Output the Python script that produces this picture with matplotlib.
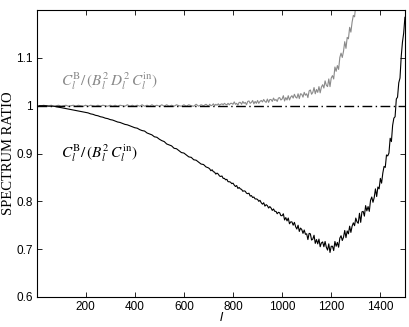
import matplotlib
matplotlib.use("Agg")
import matplotlib.pyplot as plt

# multipole l: every 10 up to 700, then every 5 up to 1500
ell_black = list(range(10, 701, 10)) + list(range(705, 1501, 5))
ratio_black = [
    # 10 .. 700 (step 10)
    1.000, 1.000, 1.000, 1.000, 0.999, 0.999, 0.999, 0.998, 0.997, 0.996,
    0.995, 0.994, 0.993, 0.992, 0.991, 0.990, 0.989, 0.988, 0.987, 0.986,
    0.985, 0.983, 0.982, 0.980, 0.979, 0.977, 0.976, 0.974, 0.973, 0.971,
    0.970, 0.968, 0.966, 0.965, 0.963, 0.961, 0.960, 0.958, 0.956, 0.954,
    0.953, 0.950, 0.948, 0.947, 0.943, 0.941, 0.939, 0.935, 0.934, 0.930,
    0.927, 0.925, 0.920, 0.918, 0.916, 0.911, 0.910, 0.906, 0.902, 0.901,
    0.897, 0.893, 0.892, 0.887, 0.886, 0.882, 0.878, 0.877, 0.872, 0.870,
    # 705 .. 1000 (step 5)
    0.868, 0.864, 0.866, 0.862, 0.861, 0.857, 0.859, 0.857, 0.853, 0.852,
    0.853, 0.848, 0.848, 0.845, 0.846, 0.841, 0.841, 0.840, 0.837, 0.838,
    0.834, 0.831, 0.833, 0.827, 0.829, 0.826, 0.825, 0.821, 0.822, 0.821,
    0.817, 0.816, 0.817, 0.811, 0.812, 0.808, 0.809, 0.805, 0.805, 0.804,
    0.800, 0.802, 0.797, 0.794, 0.797, 0.790, 0.793, 0.791, 0.786, 0.789,
    0.786, 0.781, 0.784, 0.779, 0.779, 0.774, 0.777, 0.776, 0.770, 0.770,
    # 1005 .. 1100
    0.774, 0.761, 0.766, 0.759, 0.765, 0.753, 0.757, 0.757, 0.750, 0.756,
    0.747, 0.742, 0.750, 0.737, 0.744, 0.741, 0.733, 0.740, 0.731, 0.732,
    # 1105 .. 1200
    0.720, 0.733, 0.732, 0.719,
    0.721, 0.729, 0.712, 0.720, 0.711, 0.721, 0.705, 0.713, 0.715, 0.705,
    0.716, 0.704, 0.698, 0.711, 0.693, 0.706,
    # 1205 .. 1300
    0.706, 0.697, 0.716, 0.706, 0.714, 0.704, 0.723, 0.728, 0.718, 0.725,
    0.739, 0.724, 0.738, 0.732, 0.748, 0.735, 0.748, 0.755, 0.749, 0.765,
    # 1305 .. 1500
    0.757, 0.754, 0.775, 0.756, 0.778, 0.779, 0.769, 0.791, 0.780, 0.789,
    0.779, 0.802, 0.809, 0.798, 0.808, 0.826, 0.810, 0.830, 0.826, 0.848,
    0.838, 0.859, 0.873, 0.871, 0.897, 0.895, 0.901, 0.932, 0.925, 0.959,
    0.974, 0.977, 1.014, 1.018, 1.048, 1.058, 1.103, 1.133, 1.152, 1.185,
]

ell_gray = list(range(10, 701, 10)) + list(range(705, 1321, 5))
ratio_gray = [
    # 10 .. 700 (step 10)
    1.000, 1.000, 1.001, 0.999, 1.000, 1.001, 0.999, 1.000, 1.001, 0.999,
    1.000, 1.001, 0.999, 1.000, 1.001, 0.999, 1.001, 1.000, 0.999, 1.001,
    0.999, 1.001, 1.000, 0.999, 1.001, 0.999, 1.001, 1.000, 0.999, 1.001,
    0.999, 1.001, 0.999, 1.001, 1.000, 0.999, 1.002, 0.999, 1.001, 0.999,
    1.001, 0.999, 1.002, 0.999, 1.001, 0.999, 1.002, 0.999, 1.001, 0.999,
    1.002, 0.999, 1.002, 0.999, 1.001, 0.999, 1.002, 1.000, 0.999, 1.002,
    0.999, 1.002, 1.000, 0.999, 1.003, 0.999, 1.002, 1.000, 1.003, 0.999,
    # 705 .. 800 (step 5)
    1.003, 1.000, 1.001, 1.004, 1.000, 1.003, 1.001, 1.004, 1.001, 1.003,
    1.004, 1.002, 1.005, 1.003, 1.002, 1.005, 1.002, 1.005, 1.005, 1.003,
    # 805 .. 900
    1.008, 1.003, 1.005, 1.001, 1.007, 1.007, 1.003, 1.009, 1.005, 1.007,
    1.002, 1.009, 1.010, 1.005, 1.007, 1.011, 1.004, 1.009, 1.005, 1.011,
    # 905 .. 1000
    1.005, 1.009, 1.011, 1.008, 1.013, 1.009, 1.007, 1.014, 1.007, 1.013,
    1.013, 1.009, 1.016, 1.011, 1.013, 1.009, 1.016, 1.017, 1.012, 1.014,
    # 1005 .. 1100
    1.021, 1.010, 1.017, 1.012, 1.021, 1.012, 1.018, 1.021, 1.016, 1.024,
    1.018, 1.016, 1.025, 1.015, 1.025, 1.024, 1.018, 1.028, 1.022, 1.025,
    # 1105 .. 1200
    1.017, 1.031, 1.033, 1.024, 1.028, 1.038, 1.025, 1.034, 1.028, 1.040,
    1.027, 1.039, 1.044, 1.037, 1.052, 1.043, 1.040, 1.056, 1.040, 1.058,
    # 1205 .. 1320
    1.063, 1.056, 1.081, 1.072, 1.084, 1.076, 1.101, 1.110,
    1.101, 1.114, 1.134, 1.120, 1.143, 1.140, 1.164, 1.154,
    1.175, 1.189, 1.186, 1.211, 1.208, 1.212, 1.240, 1.235,
]

ell_ref = [2, 1500]
ratio_ref = [1.0, 1.0]

x_ticks = [200, 400, 600, 800, 1000, 1200, 1400]
y_ticks = [0.6, 0.7, 0.8, 0.9, 1.0, 1.1]
y_tick_labels = ["0.6", "0.7", "0.8", "0.9", "1", "1.1"]

plt.rcParams['mathtext.fontset'] = 'stix'

fig = plt.figure(figsize=(4.09, 3.27), dpi=100)
ax = fig.add_axes([0.0905, 0.092, 0.8995, 0.877])

gray = '#8a8a8a'
ax.plot(ell_gray, ratio_gray, color=gray, lw=0.8)
ax.plot(ell_ref, ratio_ref, color='black', lw=1.0, linestyle=(0, (7, 2.5, 1, 2.5)))
ax.plot(ell_black, ratio_black, color='black', lw=0.8)

ax.set_xlim(2, 1500)
ax.set_ylim(0.6, 1.2)
ax.set_xticks(x_ticks)
ax.set_xticklabels([str(t) for t in x_ticks], family='Liberation Sans', fontsize=8.5)
ax.set_yticks(y_ticks)
ax.set_yticklabels(y_tick_labels, family='Liberation Sans', fontsize=8.5)
ax.tick_params(direction='in', top=True, right=True, length=3.5, width=0.6, pad=3)
for s in ax.spines.values():
    s.set_linewidth(0.8)

ax.set_xlabel('l', family='Liberation Sans', style='italic', fontsize=9.5, labelpad=-1)
ax.set_ylabel('SPECTRUM RATIO', family='Liberation Serif', fontsize=10.5, labelpad=1)

ax.text(99, 1.05, r'$C_l^{\mathrm{B}}/\,(B_l^{2}\,D_l^{2}\,C_l^{\mathrm{in}})$',
        color=gray, fontsize=11, va='center', ha='left')
ax.text(99, 0.9, r'$C_l^{\mathrm{B}}/\,(B_l^{2}\,C_l^{\mathrm{in}})$',
        color='black', fontsize=11, va='center', ha='left')

fig.savefig('out.png', dpi=100)
